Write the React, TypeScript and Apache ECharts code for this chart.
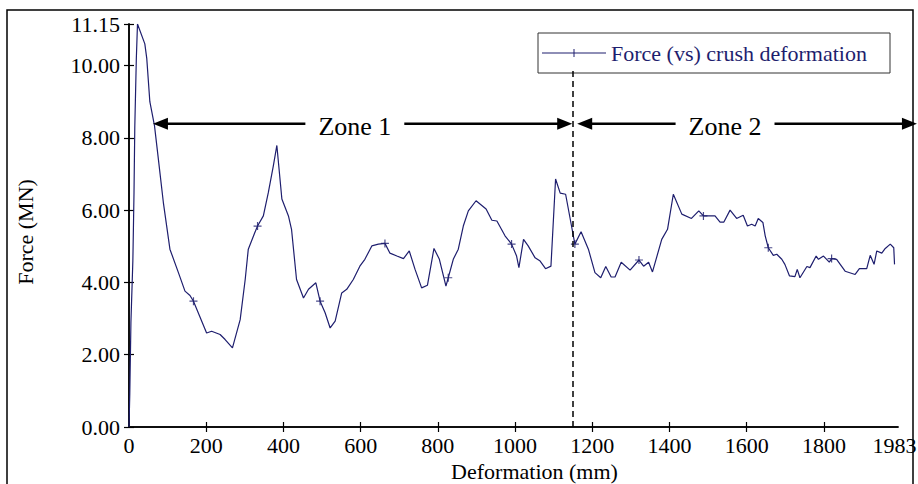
import React, { useEffect, useRef } from "react";
import * as echarts from "echarts";

const SERIES_NAME = "Force (vs) crush deformation";
const X_NAME = "Deformation (mm)";
const Y_NAME = "Force (MN)";

const DEFORMATION = [
  0, 2, 5, 10, 13, 15, 19, 22, 41, 46, 54, 66, 76, 89, 106, 128, 145, 158, 167,
  201, 214, 236, 249, 268, 288, 301, 309, 326, 333, 348, 361, 374, 383, 396, 413,
  421, 434, 452, 465, 484, 495, 508, 521, 534, 551, 564, 581, 598, 611, 629, 646,
  663, 676, 694, 711, 726, 741, 758, 773, 790, 804, 821, 827, 840, 853, 866, 879,
  899, 925, 940, 953, 974, 991, 1004, 1010, 1022, 1034, 1052, 1065, 1079, 1093,
  1105, 1117, 1131, 1147, 1155, 1171, 1190, 1207, 1222, 1235, 1249, 1259, 1275,
  1298, 1321, 1333, 1346, 1356, 1380, 1395, 1410, 1432, 1457, 1476, 1488, 1518,
  1531, 1541, 1557, 1574, 1591, 1602, 1613, 1622, 1630, 1642, 1648, 1656, 1669,
  1678, 1691, 1699, 1711, 1725, 1731, 1738, 1756, 1764, 1780, 1786, 1799, 1814,
  1820, 1833, 1855, 1881, 1892, 1911, 1920, 1930, 1937, 1950, 1959, 1972, 1981, 1983,
];
const FORCE = [
  0, 0.9, 2.9, 4.6, 6.5, 8.3, 10.2, 11.15, 10.6, 10.2, 9.0, 8.34, 7.42, 6.21, 4.92,
  4.27, 3.76, 3.64, 3.48, 2.6, 2.65, 2.56, 2.42, 2.19, 2.97, 4.08, 4.92, 5.38, 5.56,
  5.84, 6.49, 7.23, 7.79, 6.31, 5.84, 5.47, 4.08, 3.57, 3.81, 3.99, 3.48, 3.16, 2.74,
  2.93, 3.71, 3.81, 4.08, 4.45, 4.64, 5.01, 5.06, 5.08, 4.81, 4.73, 4.66, 4.87, 4.36,
  3.85, 3.92, 4.94, 4.64, 3.9, 4.13, 4.64, 4.92, 5.56, 5.98, 6.26, 6.03, 5.72, 5.7,
  5.29, 5.06, 4.73, 4.41, 5.19, 5.01, 4.68, 4.59, 4.38, 4.45, 6.86, 6.47, 6.44, 5.52,
  5.06, 5.4, 4.92, 4.27, 4.13, 4.44, 4.15, 4.15, 4.56, 4.34, 4.62, 4.45, 4.56, 4.29,
  5.19, 5.47, 6.44, 5.89, 5.77, 5.98, 5.84, 5.84, 5.67, 5.67, 6.0, 5.77, 5.86, 5.56,
  5.61, 5.56, 5.77, 5.66, 5.29, 4.96, 4.75, 4.78, 4.64, 4.5, 4.18, 4.16, 4.36, 4.13,
  4.44, 4.41, 4.73, 4.64, 4.73, 4.56, 4.66, 4.64, 4.31, 4.22, 4.38, 4.38, 4.75, 4.5,
  4.87, 4.81, 4.94, 5.06, 4.96, 4.5,
];
const MARKER_DEFORMATION = [167, 333, 495, 663, 827, 991, 1155, 1321, 1488, 1656, 1820];

const X_MAX = 1992;
const X_TICKS = [200, 400, 600, 800, 1000, 1200, 1400, 1600, 1800];
const X_LABELS = [0, 200, 400, 600, 800, 1000, 1200, 1400, 1600, 1800, 1983];
const Y_MAX = 11.15;
const Y_INTERVAL = 2;

const ZONE_BOUNDARY = 1150;
const DASH_TOP = 9.9;
const ZONE_ARROW_Y = 8.39;
const ZONE_LABELS = ["Zone 1", "Zone 2"];
const ZONE_FROM = [62, 1161];
const ZONE_TO = [1148, 2041];
const ZONE_LABEL_X = [585, 1544];

const NAVY = "#1e1e6e";
const FONT = '"Liberation Serif", "Times New Roman", serif';
const PLUS = "path://M4.25,0H5.75V10H4.25ZM0,4.25H10V5.75H0Z";

export default function App() {
  const ref = useRef<HTMLDivElement>(null);
  useEffect(() => {
    if (!ref.current) return;
    const chart = echarts.init(ref.current, null, { renderer: "svg" });
    const axisLine = { show: true, lineStyle: { color: "#000", width: 1.5 } };
    const tickStyle = { color: "#000", width: 1.2 };
    const option: any = {
      animation: false,
      backgroundColor: "#fff",
      grid: { left: 129, right: 20, top: 24, bottom: 57, containLabel: false, outerBoundsMode: "none" },
      legend: {
        data: [{ name: SERIES_NAME, icon: "path://M0,4.5H64V5.5H0ZM31.5,1H32.5V9H31.5Z" }],
        left: 538,
        top: 33,
        itemWidth: 64,
        itemHeight: 10,
        padding: [9, 2, 9, 4],
        backgroundColor: "#fff",
        borderColor: "#333",
        borderWidth: 1,
        borderRadius: 0,
        itemStyle: { color: NAVY, borderWidth: 0 },
        textStyle: { fontFamily: FONT, fontSize: 22, color: NAVY, width: 277, lineHeight: 20 },
      },
      xAxis: [
        {
          type: "value",
          position: "bottom",
          min: 0,
          max: X_MAX,
          interval: 200,
          axisLine,
          axisTick: { show: true, inside: true, length: 5, customValues: X_TICKS, lineStyle: tickStyle },
          axisLabel: {
            customValues: X_LABELS,
            formatter: (v: number) => String(v),
            color: "#000",
            fontFamily: FONT,
            fontSize: 22,
            margin: 7,
          },
          splitLine: { show: false },
          name: X_NAME,
          nameLocation: "middle",
          nameGap: 30,
          nameTextStyle: { fontFamily: FONT, fontSize: 22, color: "#000", padding: [0, 0, 0, 42] },
        },
        {
          type: "value",
          position: "top",
          min: 0,
          max: X_MAX,
          interval: 200,
          axisLine,
          axisTick: { show: true, inside: true, length: 5, customValues: X_TICKS, lineStyle: tickStyle },
          axisLabel: { show: false },
          splitLine: { show: false },
        },
      ],
      yAxis: [
        {
          type: "value",
          position: "left",
          min: 0,
          max: Y_MAX,
          interval: Y_INTERVAL,
          axisLine,
          axisTick: { show: true, inside: true, length: 5, lineStyle: tickStyle },
          axisLabel: {
            formatter: (v: number) => v.toFixed(2),
            color: "#000",
            fontFamily: FONT,
            fontSize: 22,
            margin: 9,
          },
          splitLine: { show: false },
          name: Y_NAME,
          nameLocation: "middle",
          nameGap: 93,
          nameTextStyle: { fontFamily: FONT, fontSize: 22, color: "#000", padding: [0, 13, 0, 0] },
        },
        {
          type: "value",
          position: "right",
          min: 0,
          max: Y_MAX,
          interval: Y_INTERVAL,
          axisLine,
          axisTick: { show: true, inside: true, length: 5, lineStyle: tickStyle },
          axisLabel: { show: false },
          splitLine: { show: false },
        },
      ],
      series: [
        {
          name: SERIES_NAME,
          type: "line",
          xAxisIndex: 0,
          yAxisIndex: 0,
          data: DEFORMATION.map((d, i) => [d, FORCE[i]]),
          symbol: "none",
          lineStyle: { color: NAVY, width: 1.2 },
          itemStyle: { color: NAVY },
          markLine: {
            silent: true,
            symbol: ["none", "none"],
            label: { show: false },
            lineStyle: { color: "#000", type: [6, 4], width: 1.5 },
            data: [[{ coord: [ZONE_BOUNDARY, 0] }, { coord: [ZONE_BOUNDARY, DASH_TOP] }]],
          },
        },
        {
          name: "markers",
          type: "scatter",
          xAxisIndex: 0,
          yAxisIndex: 0,
          silent: true,
          data: MARKER_DEFORMATION.map((d) => [d, FORCE[DEFORMATION.indexOf(d)]]),
          symbol: PLUS,
          symbolSize: 8,
          itemStyle: { color: NAVY },
          z: 3,
        },
      ],
    };
    chart.setOption(option);

    const toPx = (x: number, y: number) =>
      chart.convertToPixel({ xAxisIndex: 0, yAxisIndex: 0 }, [x, y]) as number[];
    const elements: any[] = [
      {
        type: "rect",
        shape: { x: 7, y: 10, width: 906, height: 490 },
        style: { fill: "none", stroke: "#000", lineWidth: 1.5 },
        silent: true,
      },
    ];
    ZONE_LABELS.forEach((label, i) => {
      const a = toPx(ZONE_FROM[i], ZONE_ARROW_Y);
      const b = toPx(ZONE_TO[i], ZONE_ARROW_Y);
      const c = toPx(ZONE_LABEL_X[i], ZONE_ARROW_Y);
      const y = a[1];
      const head = 15;
      const half = 6;
      elements.push({
        type: "line",
        shape: { x1: a[0] + head - 1, y1: y, x2: b[0] - head + 1, y2: y },
        style: { stroke: "#000", lineWidth: 2.5 },
        silent: true,
        z: 10,
      });
      elements.push({
        type: "polygon",
        shape: { points: [[a[0], y], [a[0] + head, y - half], [a[0] + head, y + half]] },
        style: { fill: "#000" },
        silent: true,
        z: 10,
      });
      elements.push({
        type: "polygon",
        shape: { points: [[b[0], y], [b[0] - head, y - half], [b[0] - head, y + half]] },
        style: { fill: "#000" },
        silent: true,
        z: 10,
      });
      elements.push({
        type: "text",
        x: c[0],
        y: y + 3,
        style: {
          text: label,
          fontFamily: FONT,
          fontSize: 26,
          fill: "#000",
          align: "center",
          verticalAlign: "middle",
          backgroundColor: "#fff",
          padding: [0, 13],
        },
        silent: true,
        z: 11,
      });
    });
    chart.setOption({ graphic: elements });

    return () => chart.dispose();
  }, []);
  return (
    <div
      ref={ref}
      style={{ position: "absolute", left: 0, top: 0, width: 918, height: 484 }}
    />
  );
}
